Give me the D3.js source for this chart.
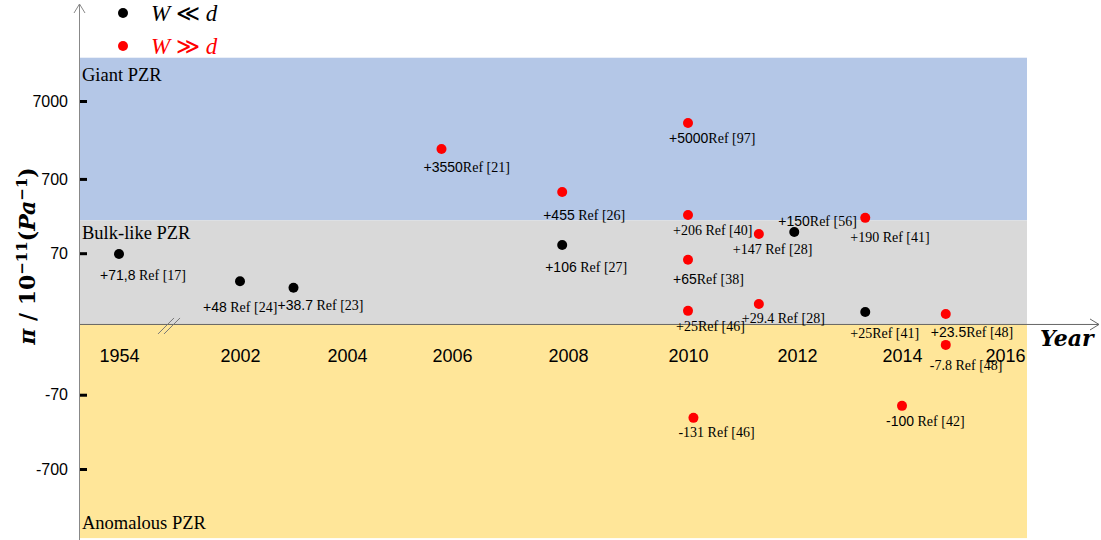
<!DOCTYPE html>
<html>
<head>
<meta charset="utf-8">
<script src="https://cdn.jsdelivr.net/npm/d3@7"></script>
<style>
  body { margin: 0; background: #fff; }
  svg { display: block; }
  .tick text { font-family: "Liberation Sans", Arial, sans-serif; fill: #000; }
  .serif { font-family: "Liberation Serif", "Times New Roman", serif; }
  .sans { font-family: "Liberation Sans", Arial, sans-serif; }
</style>
</head>
<body>
<svg id="chart" width="1101" height="540"></svg>
<script>
  // years shown on the (broken) x axis
  const yearTicks = [1954, 2002, 2004, 2006, 2008, 2010, 2012, 2014, 2016];
  const valueTicks = [7000, 700, 70, -70, -700];

  // points, as placed on the picture
  const pointYears  = [1954, 2002, 2003, 2005.8, 2007.9, 2007.9, 2010, 2010, 2010, 2010,
                       2011.3, 2011.95, 2013.3, 2011.3, 2013.3, 2014.85, 2014.85, 2010.1, 2014];
  const pointValues = [68, 25, 19, 1700, 474, 92, 3670, 236, 56, 4.7,
                       131, 139, 216, 8, 4.2, 3.4, -8.5, -148, -101];
  const pointNums   = ["+71,8", "+48", "+38.7", "+3550", "+455", "+106", "+5000", "+206", "+65", "+25",
                       "+147", "+150", "+190", "+29.4", "+25", "+23.5", "-7.8", "-131", "-100"];
  const pointRefs   = [" Ref [17]", " Ref [24]", " Ref [23]", "Ref [21]", " Ref [26]", " Ref [27]", "Ref [97]", " Ref [40]", "Ref [38]", "Ref [46]",
                       " Ref [28]", "Ref [56]", " Ref [41]", " Ref [28]", "Ref [41]", "Ref [48]", " Ref [48]", " Ref [46]", " Ref [42]"];
  const pointGroup  = ["thin", "thin", "thin", "thick", "thick", "thin", "thick", "thick", "thick", "thick",
                       "thick", "thin", "thick", "thick", "thin", "thick", "thick", "thick", "thick"];

  const groups = ["thin", "thick"];
  const groupColor = { thin: "#000", thick: "#ff0000" };

  // PZR regions
  const bandNames  = ["Giant PZR", "Bulk-like PZR", "Anomalous PZR"];
  const bandTop    = [25000, 200, 0];
  const bandBottom = [200, 0, -5400];
  const bandColor  = ["#b4c7e7", "#d9d9d9", "#ffe699"];

  // label placement relative to each dot
  const labelOffsets = [[-19, 26], [-37, 31], [-16, 22], [-18, 23], [-19, 28], [-17, 27], [-19, 20], [-15, 20], [-15, 24], [-12, 20],
                        [-26, 20], [-16, -6], [-15, 24], [-17, 19], [-15, 26], [-15, 23], [-16, 25], [-15, 19], [-16, 20]];
  const sansNums = new Set([0, 1, 2, 3, 4, 5, 6, 8, 11, 15, 18]);

  const svg = d3.select('#chart');
  const left = 79, right = 1027;

  const x = d3.scaleLinear()
    .domain(yearTicks)
    .range([119, 240, 347, 452, 568, 688, 797, 902, 1005]);

  const y = d3.scaleSymlog()
    .constant(10)
    .domain([-700, 7000])
    .range([469, 101]);

  const y0 = y(0);

  // regions
  svg.selectAll('rect.band')
    .data(bandNames)
    .join('rect')
    .attr('class', 'band')
    .attr('x', left)
    .attr('width', right - left)
    .attr('y', (d, i) => y(bandTop[i]))
    .attr('height', (d, i) => y(bandBottom[i]) - y(bandTop[i]))
    .attr('fill', (d, i) => bandColor[i]);

  svg.selectAll('text.band')
    .data(bandNames)
    .join('text')
    .attr('class', 'band serif')
    .attr('x', left + 3)
    .attr('y', (d, i) => i < 2 ? y(bandTop[i]) + 23 - (i ? 4 : 0) : y(bandBottom[i]) - 9)
    .attr('font-size', 18.5)
    .attr('fill', '#000')
    .text(d => d);

  // axis lines with open arrow heads
  svg.append('line')
    .attr('x1', left).attr('x2', 1099)
    .attr('y1', y0 + 0.5).attr('y2', y0 + 0.5)
    .attr('stroke', '#666').attr('stroke-width', 1);
  svg.append('path')
    .attr('d', `M1090,${y0 - 5}L1099,${y0 + 0.5}L1090,${y0 + 6}`)
    .attr('fill', 'none').attr('stroke', '#666');

  svg.append('line')
    .attr('x1', left + 0.5).attr('x2', left + 0.5)
    .attr('y1', 540).attr('y2', 4)
    .attr('stroke', '#888').attr('stroke-width', 1);
  svg.append('path')
    .attr('d', `M${left - 5},13L${left + 0.5},4L${left + 6},13`)
    .attr('fill', 'none').attr('stroke', '#888');

  // break marks
  [0, 6].forEach(o => {
    svg.append('line')
      .attr('x1', 158 + o).attr('y1', y0 + 10)
      .attr('x2', 174 + o).attr('y2', y0 - 6)
      .attr('stroke', '#777').attr('stroke-width', 1);
  });

  // axes
  const xAxis = svg.append('g')
    .attr('transform', `translate(0,${y0})`)
    .call(d3.axisBottom(x).tickValues(yearTicks).tickFormat(d3.format('d')).tickSize(0).tickPadding(25));
  xAxis.select('.domain').remove();
  xAxis.selectAll('text').attr('font-size', 18);

  const yAxis = svg.append('g')
    .attr('transform', `translate(${left + 1},0)`)
    .call(d3.axisLeft(y).tickValues(valueTicks).tickFormat(d => d).tickSize(-7).tickPadding(12));
  yAxis.select('.domain').remove();
  yAxis.selectAll('line').attr('stroke', '#000').attr('stroke-width', 3);
  yAxis.selectAll('text').attr('font-size', 16);

  // points
  svg.selectAll('circle.pt')
    .data(pointYears)
    .join('circle')
    .attr('class', 'pt')
    .attr('cx', (d, i) => x(d))
    .attr('cy', (d, i) => y(pointValues[i]))
    .attr('r', 5)
    .attr('fill', (d, i) => groupColor[pointGroup[i]]);

  const labels = svg.selectAll('text.pt')
    .data(pointYears)
    .join('text')
    .attr('class', 'pt serif')
    .attr('x', (d, i) => x(d) + labelOffsets[i][0])
    .attr('y', (d, i) => y(pointValues[i]) + labelOffsets[i][1])
    .attr('font-size', 14)
    .attr('fill', '#000')
    .attr('xml:space', 'preserve');
  labels.append('tspan')
    .attr('class', (d, i) => sansNums.has(i) ? 'sans' : 'serif')
    .text((d, i) => pointNums[i]);
  labels.append('tspan')
    .text((d, i) => pointRefs[i]);

  // legend
  const legend = svg.selectAll('g.legend')
    .data(groups)
    .join('g')
    .attr('class', 'legend')
    .attr('transform', (d, i) => `translate(123,${13 + i * 33})`);
  legend.append('circle')
    .attr('r', 5)
    .attr('fill', d => groupColor[d]);
  const lt = legend.append('text')
    .attr('class', 'serif')
    .attr('x', 28)
    .attr('y', 8)
    .attr('font-size', 23)
    .attr('fill', d => groupColor[d]);
  lt.append('tspan').attr('font-style', 'italic').text('W');
  lt.append('tspan').text(d => d === 'thin' ? ' \u226A ' : ' \u226B ');
  lt.append('tspan').attr('font-style', 'italic').text('d');

  // axis titles
  svg.append('text')
    .attr('x', 1040)
    .attr('y', y0 + 22)
    .attr('font-family', '"DejaVu Serif", serif')
    .attr('font-weight', 'bold')
    .attr('font-style', 'italic')
    .attr('font-size', 22)
    .text('Year');

  const yt = svg.append('text')
    .attr('transform', 'translate(35,256) rotate(-90)')
    .attr('text-anchor', 'middle')
    .attr('font-family', '"DejaVu Serif", serif')
    .attr('font-weight', 'bold')
    .attr('font-size', 22);
  yt.append('tspan').attr('font-style', 'italic').text('\u03C0');
  yt.append('tspan').text(' / 10');
  yt.append('tspan').attr('dy', -8).attr('font-size', 15).text('\u221211');
  yt.append('tspan').attr('dy', 8).text('(');
  yt.append('tspan').attr('font-style', 'italic').text('Pa');
  yt.append('tspan').attr('dy', -8).attr('font-size', 15).text('\u22121');
  yt.append('tspan').attr('dy', 8).text(')');
</script>
</body>
</html>
